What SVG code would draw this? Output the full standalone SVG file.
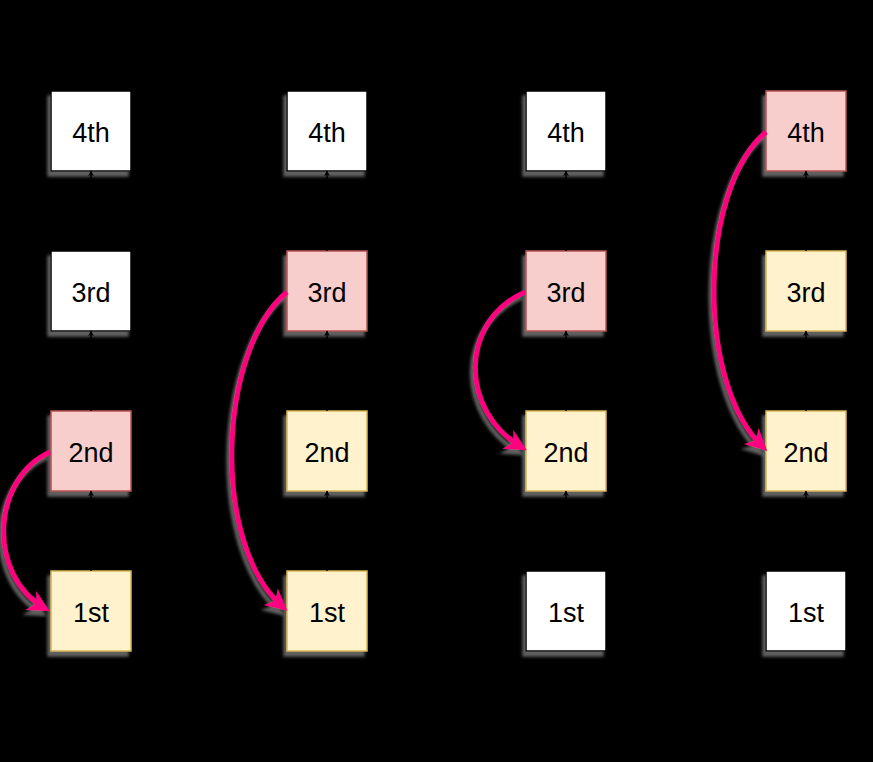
<svg xmlns="http://www.w3.org/2000/svg" width="873" height="762" viewBox="0 0 873 762">
  <style>
    .bg { fill: #000000; }
    .box { stroke-width: 1.5; }
    .plain { fill: #ffffff; stroke: #000000; }
    .red { fill: #f8cecc; stroke: #b85450; }
    .yellow { fill: #fff2cc; stroke: #d6b656; }
    .label { font-family: "Liberation Sans", Arial, sans-serif; font-size: 27px; fill: #000000; text-anchor: middle; }
    .link { fill: none; stroke: #000000; stroke-width: 1.5; }
    .jump { fill: none; stroke: #ff0080; stroke-width: 5; }
  </style>
  <defs>
    <filter id="shadow" x="-20%" y="-20%" width="140%" height="140%">
      <feDropShadow dx="-3" dy="5" stdDeviation="1.5" flood-color="#777777" flood-opacity="0.8"/>
    </filter>
    <marker id="blackArrow" viewBox="0 0 10 10" refX="9" refY="5" markerWidth="6" markerHeight="6" markerUnits="userSpaceOnUse" orient="auto">
      <path d="M0,0 L10,5 L0,10 L3,5 Z" fill="#000000"/>
    </marker>
    <marker id="pinkArrow" viewBox="0 0 10 10" refX="8" refY="5" markerWidth="24" markerHeight="22" markerUnits="userSpaceOnUse" orient="auto">
      <path d="M0,0 L10,5 L0,10 L3,5 Z" fill="#ff0080"/>
    </marker>
  </defs>
  <rect class="bg" x="0" y="0" width="873" height="762"/>

  <!-- Column 1 -->
  <g id="c1-4th"><rect class="box plain" x="51" y="91" width="80" height="80" filter="url(#shadow)"/><text class="label" x="91" y="142">4th</text></g>
  <g id="c1-3rd"><rect class="box plain" x="51" y="251" width="80" height="80" filter="url(#shadow)"/><text class="label" x="91" y="302">3rd</text></g>
  <g id="c1-2nd"><rect class="box red" x="51" y="411" width="80" height="80" filter="url(#shadow)"/><text class="label" x="91" y="462">2nd</text></g>
  <g id="c1-1st"><rect class="box yellow" x="51" y="571" width="80" height="80" filter="url(#shadow)"/><text class="label" x="91" y="622">1st</text></g>

  <!-- Column 2 -->
  <g id="c2-4th"><rect class="box plain" x="287" y="91" width="80" height="80" filter="url(#shadow)"/><text class="label" x="327" y="142">4th</text></g>
  <g id="c2-3rd"><rect class="box red" x="287" y="251" width="80" height="80" filter="url(#shadow)"/><text class="label" x="327" y="302">3rd</text></g>
  <g id="c2-2nd"><rect class="box yellow" x="287" y="411" width="80" height="80" filter="url(#shadow)"/><text class="label" x="327" y="462">2nd</text></g>
  <g id="c2-1st"><rect class="box yellow" x="287" y="571" width="80" height="80" filter="url(#shadow)"/><text class="label" x="327" y="622">1st</text></g>

  <!-- Column 3 -->
  <g id="c3-4th"><rect class="box plain" x="526" y="91" width="80" height="80" filter="url(#shadow)"/><text class="label" x="566" y="142">4th</text></g>
  <g id="c3-3rd"><rect class="box red" x="526" y="251" width="80" height="80" filter="url(#shadow)"/><text class="label" x="566" y="302">3rd</text></g>
  <g id="c3-2nd"><rect class="box yellow" x="526" y="411" width="80" height="80" filter="url(#shadow)"/><text class="label" x="566" y="462">2nd</text></g>
  <g id="c3-1st"><rect class="box plain" x="526" y="571" width="80" height="80" filter="url(#shadow)"/><text class="label" x="566" y="622">1st</text></g>

  <!-- Column 4 -->
  <g id="c4-4th"><rect class="box red" x="766" y="91" width="80" height="80" filter="url(#shadow)"/><text class="label" x="806" y="142">4th</text></g>
  <g id="c4-3rd"><rect class="box yellow" x="766" y="251" width="80" height="80" filter="url(#shadow)"/><text class="label" x="806" y="302">3rd</text></g>
  <g id="c4-2nd"><rect class="box yellow" x="766" y="411" width="80" height="80" filter="url(#shadow)"/><text class="label" x="806" y="462">2nd</text></g>
  <g id="c4-1st"><rect class="box plain" x="766" y="571" width="80" height="80" filter="url(#shadow)"/><text class="label" x="806" y="622">1st</text></g>

  <g id="connectors">
    <!-- black links between neighbours (lower box to upper box) -->
    <g>
      <path class="link" d="M91,571 L91,491" marker-end="url(#blackArrow)"/>
      <path class="link" d="M91,411 L91,331" marker-end="url(#blackArrow)"/>
      <path class="link" d="M91,251 L91,171" marker-end="url(#blackArrow)"/>
      <path class="link" d="M327,571 L327,491" marker-end="url(#blackArrow)"/>
      <path class="link" d="M327,411 L327,331" marker-end="url(#blackArrow)"/>
      <path class="link" d="M327,251 L327,171" marker-end="url(#blackArrow)"/>
      <path class="link" d="M566,571 L566,491" marker-end="url(#blackArrow)"/>
      <path class="link" d="M566,411 L566,331" marker-end="url(#blackArrow)"/>
      <path class="link" d="M566,251 L566,171" marker-end="url(#blackArrow)"/>
      <path class="link" d="M806,571 L806,491" marker-end="url(#blackArrow)"/>
      <path class="link" d="M806,411 L806,331" marker-end="url(#blackArrow)"/>
      <path class="link" d="M806,251 L806,171" marker-end="url(#blackArrow)"/>
    </g>
    <!-- pink skip arrows -->
    <g filter="url(#shadow)">
      <path class="jump" d="M50,452 C-8,478 -14,575 46,609" marker-end="url(#pinkArrow)"/>
      <path class="jump" d="M287,292 C218,350 210,545 284,608" marker-end="url(#pinkArrow)"/>
      <path class="jump" d="M525,292 C458,322 460,412 523,448" marker-end="url(#pinkArrow)"/>
      <path class="jump" d="M766,132 C698,190 696,385 764,448" marker-end="url(#pinkArrow)"/>
    </g>
  </g>
</svg>
